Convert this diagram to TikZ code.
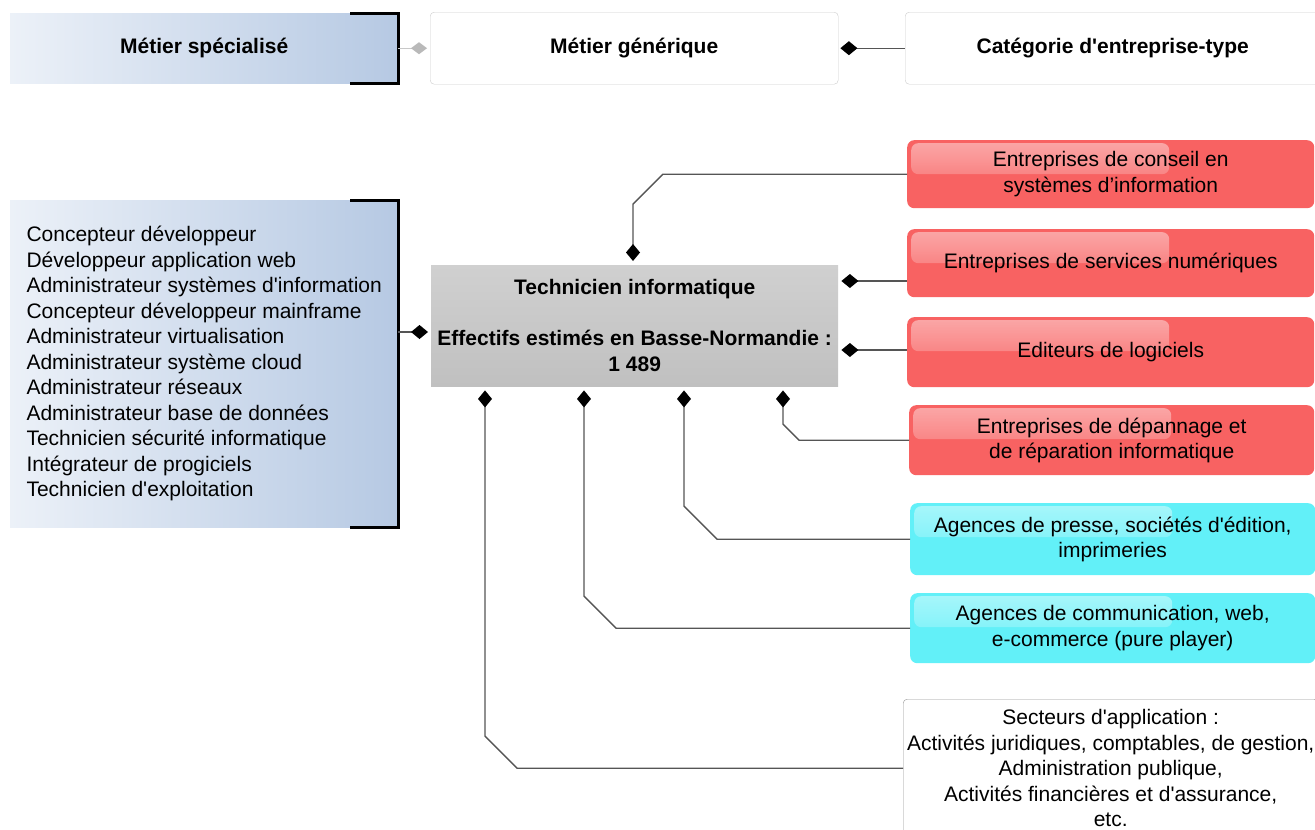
\documentclass[tikz,border=0pt]{standalone}
\usepackage{fontspec}
\setmainfont{Liberation Sans}
\usetikzlibrary{arrows.meta,calc,fadings}
\definecolor{specL}{RGB}{236,241,248}
\definecolor{specR}{RGB}{182,201,227}
\definecolor{techT}{RGB}{208,208,208}
\definecolor{techB}{RGB}{192,192,192}
\definecolor{redfill}{RGB}{248,98,98}
\definecolor{cyanfill}{RGB}{98,240,248}
\definecolor{boxline}{RGB}{205,205,205}
\definecolor{sectline}{RGB}{150,150,150}
\definecolor{linkc}{RGB}{85,85,85}
\definecolor{lightlink}{RGB}{200,200,200}
\definecolor{graydia}{RGB}{185,185,185}
\newcommand\ap{\textquotesingle}
\begin{document}
\begin{tikzpicture}[x=1pt,y=-1pt,
    box/.style={font=\fontsize{21}{25.5}\selectfont, inner sep=0pt, align=center, anchor=north west},
    spec/.style={box, left color=specL, right color=specR},
    plainbox/.style={box, draw=boxline, fill=white, rounded corners=4pt},
    techbox/.style={box, top color=techT, bottom color=techB, font=\fontsize{21}{25.5}\selectfont\bfseries},
    gloss/.style={path picture={\fill[white, fill opacity=0.45, path fading=south, rounded corners=7pt]
        ([shift={(4pt,-3pt)}]path picture bounding box.north west) rectangle
        ([shift={(262pt,-34pt)}]path picture bounding box.north west);}},
    redbox/.style={box, fill=redfill, rounded corners=7pt, gloss},
    cyanbox/.style={box, fill=cyanfill, rounded corners=7pt, gloss},
    bracket/.style={line width=3pt, black},
    link/.style={draw=linkc, line width=1.4pt},
    dstart/.style={arrows={Diamond[length=17pt,width=14pt,color=black]-}, shorten <=4pt}]
    \useasboundingbox (0,0) rectangle (1315,830);
    \fill[white] (0,0) rectangle (1315,830);
    \clip (0,0) rectangle (1315,830);
    % legend row
    \node[spec, minimum width=388pt, minimum height=70pt] (spec) at (10,13) {\textbf{Métier spécialisé}};
    \node[plainbox, minimum width=408pt, minimum height=72pt] (gen) at (430,12) {\textbf{Métier générique}};
    \node[plainbox, minimum width=415pt, minimum height=72pt] (cat) at (905,12) {\textbf{Catégorie d\ap entreprise-type}};
    \draw[bracket] ([xshift=-48pt]spec.north east) -- (spec.north east) -- (spec.south east) -- ([xshift=-48pt]spec.south east);
    \draw[draw=lightlink, line width=1.4pt, arrows={-Diamond[length=16pt,width=12pt,color=graydia]}, shorten >=3pt] (spec.east) -- (gen.west);
    \draw[link, dstart, shorten <=2pt] (gen.east) -- (cat.west);
    % specialised jobs
    \node[spec, align=left, minimum width=388pt, minimum height=327pt] (list) at (10,200) {Concepteur développeur\\
        Développeur application web\\Administrateur systèmes d\ap information\\Concepteur développeur mainframe\\
        Administrateur virtualisation\\Administrateur système cloud\\Administrateur réseaux\\
        Administrateur base de données\\Technicien sécurité informatique\\Intégrateur de progiciels\\
        Technicien d\ap exploitation};
    \draw[bracket] ([xshift=-48pt]list.north east) -- (list.north east) -- (list.south east) -- ([xshift=-48pt]list.south east);
    % generic job
    \node[techbox, minimum width=407pt, minimum height=121pt] (tech) at (431,265) {Technicien informatique\\[25.5pt]
        Effectifs estimés en Basse-Normandie :\\1 489};
    % company types
    \node[redbox, minimum width=407pt, minimum height=68pt] (conseil) at (907,140) {Entreprises de conseil en\\systèmes d’information};
    \node[redbox, minimum width=407pt, minimum height=68pt] (num) at (907,229) {Entreprises de services numériques};
    \node[redbox, minimum width=407pt, minimum height=70pt] (edit) at (907,317) {Editeurs de logiciels};
    \node[redbox, minimum width=405pt, minimum height=70pt] (dep) at (909,405) {Entreprises de dépannage et\\de réparation informatique};
    \node[cyanbox, minimum width=405pt, minimum height=72pt] (presse) at (910,503) {Agences de presse, sociétés d\ap édition,\\imprimeries};
    \node[cyanbox, minimum width=405pt, minimum height=70pt] (comm) at (910,593) {Agences de communication, web,\\e-commerce (pure player)};
    \node[plainbox, draw=sectline, minimum width=415pt, minimum height=138pt] (sect) at (903,699) {Secteurs d\ap application :\\
        Activités juridiques, comptables, de gestion,\\Administration publique,\\Activités financières et d\ap assurance,\\etc.};
    % connector ends on the generic job
    \coordinate (tT) at ($(tech.north west)+(202,0)$);
    \coordinate (tR1) at ($(tech.north east)+(0,16)$);
    \coordinate (tR2) at ($(tech.north east)+(0,85)$);
    \coordinate (tL) at ($(tech.north west)+(0,67)$);
    \foreach \n/\dx in {1/54,2/153,3/253,4/352}
        \coordinate (tB\n) at ($(tech.south west)+(\dx,0)$);
    % connectors
    \draw[link, arrows={-Diamond[length=17pt,width=14pt,color=black]}, shorten >=3pt] (tL -| list.east) -- (tL);
    \draw[link, dstart] (tT) -- ($(tT |- conseil.west)+(0,30)$) -- ($(tT |- conseil.west)+(30,0)$) -- (conseil.west);
    \draw[link, dstart, shorten <=3pt] (tR1) -- (tR1 -| num.west);
    \draw[link, dstart, shorten <=3pt] (tR2) -- (tR2 -| edit.west);
    \draw[link, dstart] (tB4) -- ($(tB4 |- dep.west)+(0,-16)$) -- ($(tB4 |- dep.west)+(16,0)$) -- (dep.west);
    \draw[link, dstart] (tB3) -- ($(tB3 |- presse.west)+(0,-33)$) -- ($(tB3 |- presse.west)+(33,0)$) -- (presse.west);
    \draw[link, dstart] (tB2) -- ($(tB2 |- comm.west)+(0,-32)$) -- ($(tB2 |- comm.west)+(32,0)$) -- (comm.west);
    \draw[link, dstart] (tB1) -- ($(tB1 |- sect.west)+(0,-32)$) -- ($(tB1 |- sect.west)+(32,0)$) -- (sect.west);
\end{tikzpicture}
\end{document}
